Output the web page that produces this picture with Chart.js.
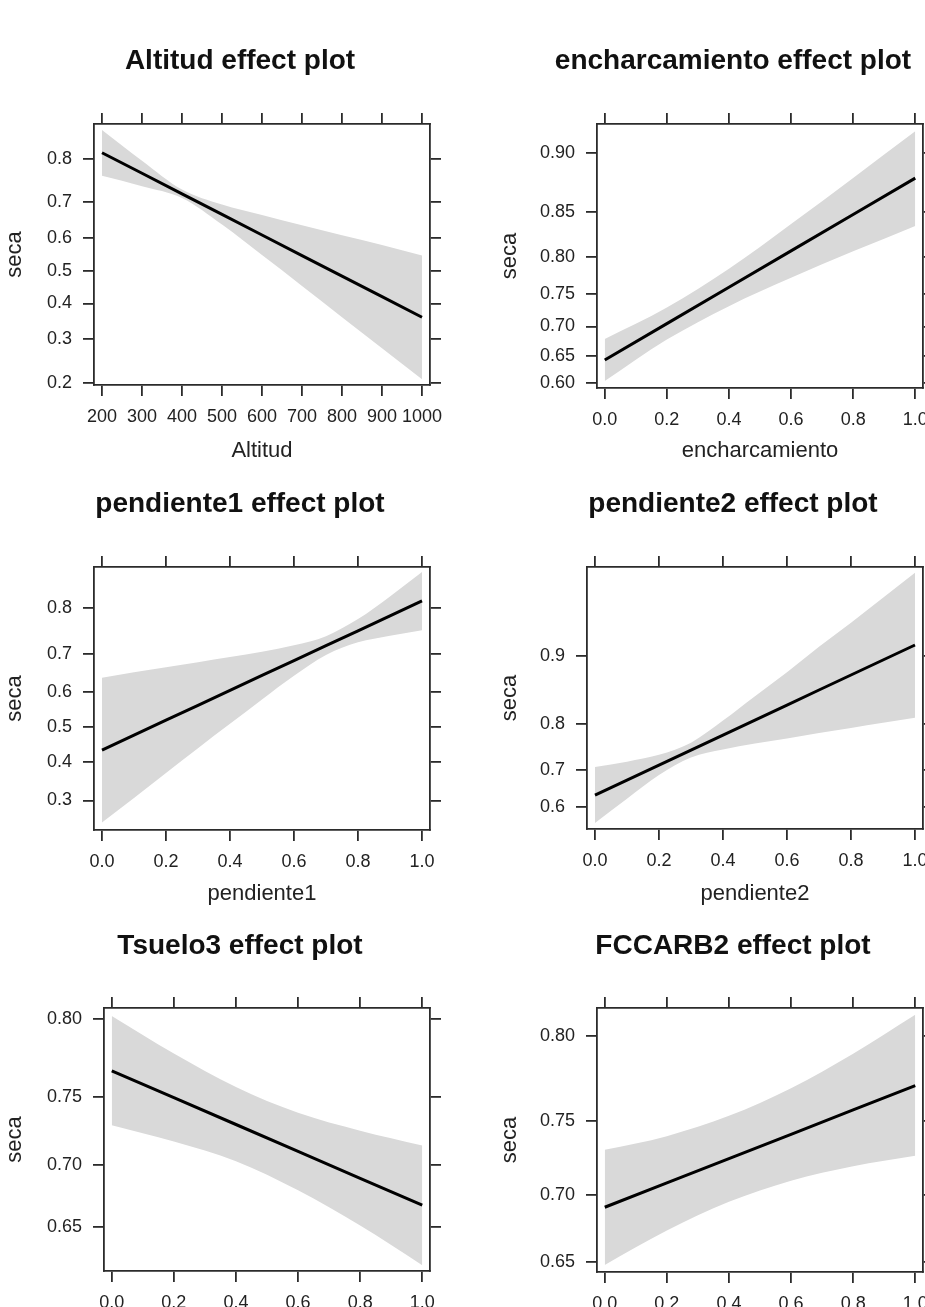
<!DOCTYPE html>
<html>
<head>
<meta charset="utf-8">
<script src="https://cdn.jsdelivr.net/npm/chart.js@4.4.1/dist/chart.umd.min.js"></script>
<style>
  html, body { margin: 0; padding: 0; background: #fff; overflow: hidden; width: 925px; height: 1307px; }
  canvas { position: absolute; }
</style>
</head>
<body>
<script>
// values (probability scale, band = 95% CI)
const altitudX     = [200, 300, 400, 500, 600, 700, 800, 900, 1000];
const altitudFit   = [0.8115, 0.7695, 0.7213, 0.6673, 0.6086, 0.5466, 0.4831, 0.4202, 0.3597];
const altitudUpper = [0.851, 0.796, 0.732, 0.694, 0.666, 0.637, 0.608, 0.579, 0.547];
const altitudLower = [0.764, 0.740, 0.711, 0.639, 0.548, 0.453, 0.360, 0.277, 0.207];
const altitudXTicks = ['200', '300', '400', '500', '600', '700', '800', '900', '1000'];
const altitudYTicks = ['0.2', '0.3', '0.4', '0.5', '0.6', '0.7', '0.8'];

const encharX     = [0, 0.2, 0.4, 0.6, 0.8, 1.0];
const encharFit   = [0.6425, 0.7045, 0.7598, 0.8076, 0.8478, 0.8808];
const encharUpper = [0.679, 0.730, 0.785, 0.838, 0.881, 0.914];
const encharLower = [0.604, 0.678, 0.732, 0.773, 0.807, 0.836];
const encharYTicks = ['0.60', '0.65', '0.70', '0.75', '0.80', '0.85', '0.90'];

const pend1X     = [0, 0.1, 0.2, 0.3, 0.4, 0.5, 0.6, 0.7, 0.8, 0.9, 1.0];
const pend1Fit   = [0.4346, 0.4774, 0.5206, 0.5634, 0.6054, 0.6458, 0.6842, 0.7203, 0.7537, 0.7844, 0.8121];
const pend1Upper = [0.640, 0.654, 0.667, 0.680, 0.693, 0.706, 0.721, 0.742, 0.778, 0.820, 0.858];
const pend1Lower = [0.249, 0.306, 0.371, 0.440, 0.510, 0.580, 0.645, 0.698, 0.728, 0.743, 0.755];
const pend1YTicks = ['0.3', '0.4', '0.5', '0.6', '0.7', '0.8'];

const pend2X     = [0, 0.1, 0.2, 0.3, 0.4, 0.5, 0.6, 0.7, 0.8, 0.9, 1.0];
const pend2Fit   = [0.6341, 0.6742, 0.7119, 0.7469, 0.7789, 0.8079, 0.8339, 0.8571, 0.8775, 0.8953, 0.9108];
const pend2Upper = [0.707, 0.720, 0.736, 0.763, 0.807, 0.848, 0.881, 0.909, 0.930, 0.947, 0.960];
const pend2Lower = [0.555, 0.624, 0.687, 0.730, 0.748, 0.761, 0.772, 0.783, 0.793, 0.803, 0.812];
const pend2YTicks = ['0.6', '0.7', '0.8', '0.9'];

const tsueloX     = [0, 0.2, 0.4, 0.6, 0.8, 1.0];
const tsueloFit   = [0.7678, 0.7496, 0.7305, 0.7105, 0.6896, 0.6680];
const tsueloUpper = [0.802, 0.779, 0.757, 0.739, 0.726, 0.715];
const tsueloLower = [0.730, 0.718, 0.703, 0.680, 0.651, 0.617];
const tsueloYTicks = ['0.65', '0.70', '0.75', '0.80'];

const fccarbX     = [0, 0.2, 0.4, 0.6, 0.8, 1.0];
const fccarbFit   = [0.6911, 0.7084, 0.7251, 0.7412, 0.7567, 0.7715];
const fccarbUpper = [0.731, 0.740, 0.753, 0.770, 0.790, 0.811];
const fccarbLower = [0.648, 0.674, 0.695, 0.710, 0.720, 0.727];
const fccarbYTicks = ['0.65', '0.70', '0.75', '0.80'];

const unitXTicks = ['0.0', '0.2', '0.4', '0.6', '0.8', '1.0'];

const FONT = '"Liberation Sans", Arial, Helvetica, sans-serif';
const TITLE_SIZE = 28;
const TITLE_H = TITLE_SIZE * 1.2;
const INK = '#2b2b2b';

const logit = p => Math.log(p / (1 - p));

// canvas rect + plot box [left, top, right, bottom] in page pixels
const panels = [
  { name: 'Altitud', left: 0, top: 44, box: [94, 124, 430, 385], xLim: [180, 1020], yLim: [0.1954, 0.8600],
    x: altitudX, fit: altitudFit, upper: altitudUpper, lower: altitudLower, xTicks: altitudXTicks, yTicks: altitudYTicks },
  { name: 'encharcamiento', left: 462, top: 44, box: [597, 124, 923, 388], xLim: [-0.025, 1.025], yLim: [0.5911, 0.9184],
    x: encharX, fit: encharFit, upper: encharUpper, lower: encharLower, xTicks: unitXTicks, yTicks: encharYTicks },
  { name: 'pendiente1', left: 0, top: 487, box: [94, 567, 430, 830], xLim: [-0.025, 1.025], yLim: [0.2333, 0.8650],
    x: pend1X, fit: pend1Fit, upper: pend1Upper, lower: pend1Lower, xTicks: unitXTicks, yTicks: pend1YTicks },
  { name: 'pendiente2', left: 462, top: 487, box: [587, 567, 923, 829], xLim: [-0.025, 1.025], yLim: [0.5371, 0.9625],
    x: pend2X, fit: pend2Fit, upper: pend2Upper, lower: pend2Lower, xTicks: unitXTicks, yTicks: pend2YTicks },
  { name: 'Tsuelo3', left: 0, top: 929, box: [104, 1008, 430, 1271], xLim: [-0.025, 1.025], yLim: [0.6119, 0.8066],
    x: tsueloX, fit: tsueloFit, upper: tsueloUpper, lower: tsueloLower, xTicks: unitXTicks, yTicks: tsueloYTicks },
  { name: 'FCCARB2', left: 462, top: 929, box: [597, 1008, 923, 1272], xLim: [-0.025, 1.025], yLim: [0.6425, 0.8145],
    x: fccarbX, fit: fccarbFit, upper: fccarbUpper, lower: fccarbLower, xTicks: unitXTicks, yTicks: fccarbYTicks },
];

function frameAxis(position, tickVals, size, extra) {
  const horizontal = position === 'top' || position === 'bottom';
  return Object.assign({
    type: 'linear',
    position,
    afterBuildTicks: s => { s.ticks = tickVals.map(v => ({ value: v })); },
    afterFit: s => { if (horizontal) s.height = size; else s.width = size; },
    grid: { display: true, drawOnChartArea: false, drawTicks: true, tickLength: 11, color: INK, lineWidth: 1.8 },
    border: { display: true, color: INK, width: 1.8 },
    ticks: { display: false },
  }, extra);
}

function makePanel(p) {
  const width = p.left === 0 ? 480 : 542;
  const height = 430;
  const canvas = document.createElement('canvas');
  canvas.width = width;
  canvas.height = height;
  canvas.style.left = p.left + 'px';
  canvas.style.top = p.top + 'px';
  document.body.appendChild(canvas);

  const [L, T, R, B] = p.box;
  const leftW = L - p.left;
  const rightW = p.left + width - R;
  const topH = T - p.top - TITLE_H;
  const bottomH = p.top + height - B;

  const xVals = p.xTicks.map(Number);
  const yVals = p.yTicks.map(s => logit(parseFloat(s)));
  const pts = ys => p.x.map((x, i) => ({ x, y: logit(ys[i]) }));
  const yMin = logit(p.yLim[0]), yMax = logit(p.yLim[1]);

  const tickFont = { family: FONT, size: 18 };
  const labelFont = { family: FONT, size: 22 };

  new Chart(canvas, {
    type: 'line',
    data: {
      datasets: [
        { data: pts(p.fit), borderColor: '#000', borderWidth: 3, pointRadius: 0, tension: 0, fill: false },
        { data: pts(p.upper), borderColor: 'transparent', borderWidth: 0, pointRadius: 0,
          cubicInterpolationMode: 'monotone', fill: '+1', backgroundColor: '#d9d9d9' },
        { data: pts(p.lower), borderColor: 'transparent', borderWidth: 0, pointRadius: 0,
          cubicInterpolationMode: 'monotone', fill: false },
      ]
    },
    options: {
      responsive: false,
      animation: false,
      devicePixelRatio: 1,
      layout: { padding: 0 },
      plugins: {
        legend: { display: false },
        tooltip: { enabled: false },
        title: {
          display: true,
          text: p.name + ' effect plot',
          color: '#111',
          font: { family: FONT, size: TITLE_SIZE, weight: 'bold', lineHeight: 1.2 },
          padding: { top: 0, bottom: 0 },
        },
      },
      scales: {
        x: frameAxis('bottom', xVals, bottomH, {
          min: p.xLim[0], max: p.xLim[1],
          ticks: { display: true, autoSkip: false, maxRotation: 0, minRotation: 0, padding: 10,
                   color: '#222', font: tickFont, callback: (v, i) => p.xTicks[i] },
          title: { display: true, text: p.name, color: '#222', font: labelFont, padding: { top: 0, bottom: 10 } },
        }),
        xTop: frameAxis('top', xVals, topH, { min: p.xLim[0], max: p.xLim[1] }),
        y: frameAxis('left', yVals, leftW, {
          min: yMin, max: yMax,
          ticks: { display: true, autoSkip: false, padding: 11, color: '#222', font: tickFont,
                   callback: (v, i) => p.yTicks[i] },
          title: { display: true, text: 'seca', color: '#222', font: labelFont,
                   padding: { top: p.left === 0 ? 2 : 35, bottom: 0 } },
        }),
        yRight: frameAxis('right', yVals, rightW, { min: yMin, max: yMax }),
      }
    }
  });
}

panels.forEach(makePanel);
</script>
</body>
</html>
